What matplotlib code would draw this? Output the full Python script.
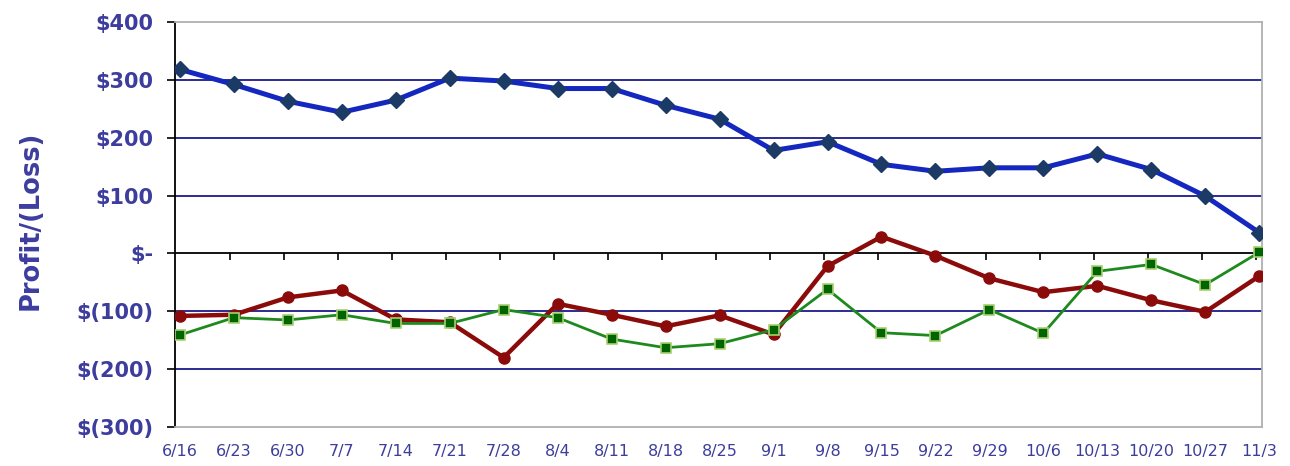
import matplotlib
matplotlib.use("Agg")
import matplotlib.pyplot as plt
import numpy as np

dates = ["6/16", "6/23", "6/30", "7/7", "7/14", "7/21", "7/28", "8/4", "8/11", "8/18",
         "8/25", "9/1", "9/8", "9/15", "9/22", "9/29", "10/6", "10/13", "10/20", "10/27", "11/3"]
blue = [318, 292, 263, 244, 265, 303, 298, 285, 285, 256, 232, 178, 193, 154, 142, 148, 148, 172, 145, 99, 36]
red = [-108, -106, -76, -64, -114, -119, -180, -87, -106, -126, -107, -140, -22, 29, -4, -43, -67, -56, -81, -101, -39]
green = [-141, -111, -115, -106, -121, -121, -97, -111, -148, -163, -156, -132, -62, -137, -142, -97, -138, -31, -19, -54, 2]
ytick_vals = [400, 300, 200, 100, 0, -100, -200, -300]
ytick_labels = ["$400", "$300", "$200", "$100", "$-", "$(100)", "$(200)", "$(300)"]

label_color = "#3d3d9e"

L, R, T, B = 175, 1262, 22, 427
fig = plt.figure(figsize=(12.9, 4.66), dpi=100)
ax = fig.add_axes([L/1290, 1 - B/466, (R-L)/1290, (B-T)/466])

x = np.arange(len(dates))

for g in [300, 200, 100, -100, -200]:
    ax.axhline(g, color="#1a1a8c", lw=1.3, zorder=1)
ax.axhline(0, color="black", lw=1.3, zorder=1)

ax.plot(x, red, color="#8b0a0a", lw=3.2, marker="o", ms=8, mfc="#8b0a0a", mec="#8b0a0a", zorder=3)
ax.plot(x, green, color="#1e8a1e", lw=2.0, marker="s", ms=7.5, mfc="#006400", mec="#a8d070", mew=1.2, zorder=4)
ax.plot(x, blue, color="#1428c0", lw=3.6, marker="D", ms=8.5, mfc="#1c3a66", mec="#1c3a66", zorder=5)

ax.set_xlim(-0.09, 20.05)
ax.set_ylim(-300, 400)
ax.set_yticks(ytick_vals)
ax.set_yticklabels(ytick_labels, fontsize=15, fontweight="bold", color=label_color)
ax.set_xticks(x)
ax.set_xticklabels(dates, fontsize=11.5, color=label_color)
ax.tick_params(axis="x", length=0, pad=12)
ax.tick_params(axis="y", length=5.5, width=1.2, direction="out", color="black", pad=10)

for s in ["top", "right", "bottom"]:
    ax.spines[s].set_color("#b0b0b0")
    ax.spines[s].set_linewidth(1.3)
ax.spines["left"].set_color("black")
ax.spines["left"].set_linewidth(1.3)

sec = ax.secondary_xaxis(3/7)
sec.set_xticks(x[1:] - 0.07)
sec.tick_params(axis="x", direction="out", length=5, width=1.2, color="black", labelbottom=False, labeltop=False)
for s in sec.spines.values():
    s.set_visible(False)

ax.set_ylabel("Profit/(Loss)", fontsize=18.5, fontweight="bold", color=label_color)
ax.yaxis.set_label_coords((44 - L) / (R - L), (466 - 220 - (466 - B)) / (B - T))

fig.savefig("out.png", dpi=100)
